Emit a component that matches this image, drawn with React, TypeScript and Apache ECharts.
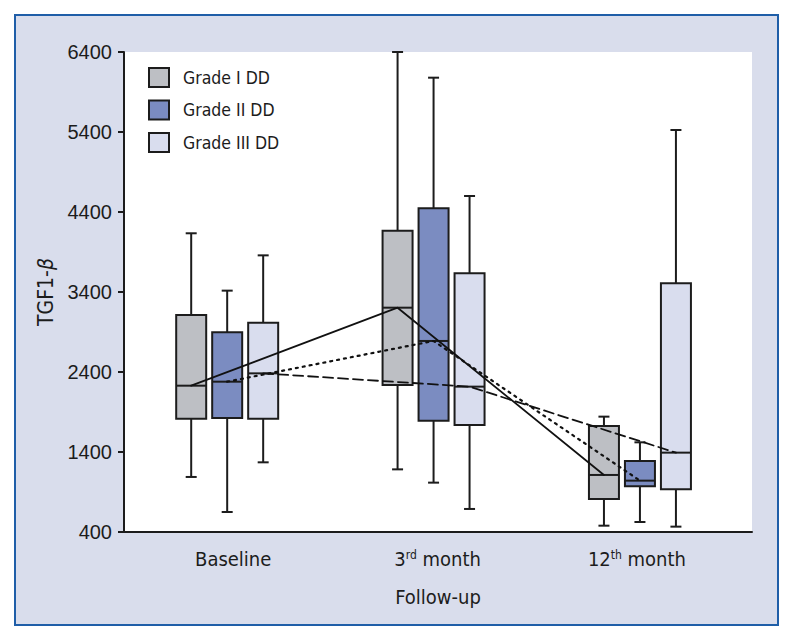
import React, { useEffect, useRef } from 'react';
import * as echarts from 'echarts';

const categories = ['Baseline', '3rd month', '12th month'];
const gradeNames = ['Grade I DD', 'Grade II DD', 'Grade III DD'];
// per category: [min, Q1, median, Q3, max]
const gradeI = [
  [1088, 1817, 2229, 3112, 4134],
  [1183, 2238, 3204, 4167, 6400],
  [479, 813, 1113, 1725, 1842],
];
const gradeII = [
  [650, 1825, 2279, 2896, 3417],
  [1017, 1792, 2788, 4446, 6079],
  [525, 971, 1042, 1287, 1521],
];
const gradeIII = [
  [1271, 1817, 2383, 3017, 3858],
  [688, 1738, 2217, 3633, 4600],
  [467, 934, 1392, 3508, 5425],
];
const yTicks = [400, 1400, 2400, 3400, 4400, 5400, 6400];

const gradeColors = ['#bdbfc4', '#7b8cc1', '#d9ddee'];
const medianLineTypes: any[] = ['solid', [2, 5], [10, 5]];
const GRADE_OFFSET = 0.1744;
// horizontal nudges (px) of the category labels relative to the group centre
const LABEL_NUDGE = [6, 4, -3];
const NARROW = '"Liberation Sans Narrow", "DejaVu Sans Condensed", "Liberation Sans", sans-serif';
const REGULAR = '"Liberation Sans", Arial, sans-serif';
const INK = '#1c1c1c';

const allGrades = [gradeI, gradeII, gradeIII];

const renderBox = (fill: string) => (params: any, api: any) => {
  const x = api.value(0);
  const pMin = api.coord([x, api.value(1)]);
  const pQ1 = api.coord([x, api.value(2)]);
  const pMed = api.coord([x, api.value(3)]);
  const pQ3 = api.coord([x, api.value(4)]);
  const pMax = api.coord([x, api.value(5)]);
  const cx = pMin[0];
  const hw = 15;
  const cap = 5.5;
  const ls = { stroke: INK, lineWidth: 2 };
  return {
    type: 'group',
    children: [
      { type: 'line', shape: { x1: cx, y1: pMax[1], x2: cx, y2: pQ3[1] }, style: ls },
      { type: 'line', shape: { x1: cx, y1: pQ1[1], x2: cx, y2: pMin[1] }, style: ls },
      { type: 'line', shape: { x1: cx - cap, y1: pMax[1], x2: cx + cap, y2: pMax[1] }, style: ls },
      { type: 'line', shape: { x1: cx - cap, y1: pMin[1], x2: cx + cap, y2: pMin[1] }, style: ls },
      {
        type: 'rect',
        shape: { x: cx - hw, y: pQ3[1], width: 2 * hw, height: pQ1[1] - pQ3[1] },
        style: { fill, stroke: INK, lineWidth: 2 },
      },
      { type: 'line', shape: { x1: cx - hw, y1: pMed[1], x2: cx + hw, y2: pMed[1] }, style: ls },
    ],
  };
};

const xOf = (catIdx: number, g: number) => catIdx + 0.5 + (g - 1) * GRADE_OFFSET;

export default function App() {
  const ref = useRef<HTMLDivElement>(null);
  useEffect(() => {
    if (!ref.current) return;
    const chart = echarts.init(ref.current, null, { renderer: 'svg' });

    const boxSeries = allGrades.map((grade, g) => ({
      type: 'custom',
      name: gradeNames[g],
      renderItem: renderBox(gradeColors[g]),
      itemStyle: { color: gradeColors[g] },
      encode: { x: 0, y: [1, 2, 3, 4, 5] },
      data: grade.map((d, i) => [xOf(i, g), ...d]),
      z: 2,
    }));

    const lineSeries = allGrades.map((grade, g) => ({
      type: 'line',
      name: gradeNames[g] + ' median',
      data: grade.map((d, i) => [xOf(i, g), d[2]]),
      symbol: 'none',
      silent: true,
      lineStyle: { color: '#111', width: g === 1 ? 2.2 : 1.8, type: medianLineTypes[g], cap: 'round' },
      z: 5,
    }));

    const padRich: any = {};
    LABEL_NUDGE.forEach((n, i) => {
      padRich['pad' + i] = { width: Math.abs(n) * 2, fontSize: 20, fontFamily: NARROW };
    });

    const option: any = {
      animation: false,
      graphic: [
        {
          type: 'rect',
          z: -10,
          shape: { x: 15, y: 15, width: 763, height: 610 },
          style: { fill: '#d9ddec', stroke: '#1f5ea8', lineWidth: 2 },
        },
      ],
      legend: {
        orient: 'vertical',
        left: 143,
        top: 62,
        itemWidth: 20,
        itemHeight: 19,
        itemGap: 11.5,
        selectedMode: false,
        textStyle: { fontFamily: NARROW, fontSize: 17.5, color: INK, padding: [0, 0, 0, 9], lineHeight: 19 },
        data: gradeNames.map((n, g) => ({
          name: n,
          icon: 'rect',
          itemStyle: { color: gradeColors[g], borderColor: INK, borderWidth: 2 },
        })),
      },
      grid: {
        left: 124,
        top: 52,
        width: 628,
        height: 480,
        show: true,
        backgroundColor: '#ffffff',
        borderWidth: 0,
      },
      xAxis: {
        type: 'value',
        min: 0,
        max: 3.043,
        name: 'Follow-up',
        nameLocation: 'middle',
        nameGap: 55,
        nameTextStyle: { fontFamily: NARROW, fontSize: 20, color: INK },
        axisLine: { show: true, lineStyle: { color: INK, width: 2 } },
        axisTick: { show: false },
        splitLine: { show: false },
        axisLabel: {
          customValues: [0.5, 1.5, 2.5],
          margin: 17,
          fontFamily: NARROW,
          fontSize: 20,
          color: INK,
          formatter: (v: number) => {
            const idx = Math.round(v - 0.5);
            const txt = (categories[idx] || '').replace(/^(\d+)(st|nd|rd|th)/, '$1{sup|$2}');
            const n = LABEL_NUDGE[idx] || 0;
            if (n > 0) return '{pad' + idx + '| }' + txt;
            if (n < 0) return txt + '{pad' + idx + '| }';
            return txt;
          },
          rich: {
            sup: { fontFamily: NARROW, fontSize: 12, color: INK, verticalAlign: 'top', lineHeight: 12 },
            ...padRich,
          },
        },
      },
      yAxis: {
        type: 'value',
        min: yTicks[0],
        max: yTicks[yTicks.length - 1],
        interval: yTicks[1] - yTicks[0],
        name: 'TGF1-{i|β}',
        nameLocation: 'middle',
        nameGap: 56,
        nameRotate: 90,
        nameTextStyle: {
          fontFamily: NARROW,
          fontSize: 21,
          color: INK,
          rich: { i: { fontFamily: NARROW, fontSize: 21, fontStyle: 'italic', color: INK } },
        },
        axisLine: { show: true, lineStyle: { color: INK, width: 2 } },
        axisTick: { show: true, length: 6, lineStyle: { color: INK, width: 2 } },
        splitLine: { show: false },
        axisLabel: {
          fontFamily: REGULAR,
          fontSize: 20,
          color: INK,
          margin: 12,
          formatter: (v: number) => String(v),
        },
      },
      series: [...boxSeries, ...lineSeries],
    };
    chart.setOption(option);
    return () => chart.dispose();
  }, []);
  return (
    <div
      ref={ref}
      style={{ position: 'fixed', left: 0, top: 0, width: 794, height: 641, background: '#ffffff' }}
    />
  );
}
